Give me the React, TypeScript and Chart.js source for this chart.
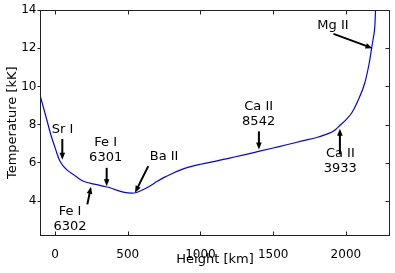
import React, { useEffect, useRef } from "react";
import { Chart, registerables } from "chart.js";
Chart.register(...registerables);

// ---- data ----
const heights = [
  -100, -60, -30, 0, 12, 30, 57, 90, 126, 160, 195, 240, 287, 330, 378, 420, 469, 527, 560,
  600, 650, 700, 750, 800, 860, 920, 1000, 1100, 1200, 1300, 1400, 1500, 1600, 1700, 1800,
  1850, 1900, 1930, 1960, 2000, 2040, 2080, 2130, 2160, 2177, 2190, 2199, 2204, 2208,
];
const temperatures = [
  9.45, 8.35, 7.5, 6.8, 6.52, 6.15, 5.83, 5.58, 5.39, 5.2, 5.04, 4.94, 4.86, 4.78, 4.7, 4.58,
  4.47, 4.42, 4.45, 4.58, 4.78, 5.02, 5.24, 5.42, 5.62, 5.78, 5.93, 6.08, 6.25, 6.42, 6.6,
  6.78, 6.96, 7.15, 7.33, 7.45, 7.6, 7.75, 7.97, 8.25, 8.61, 9.2, 10.18, 11.2, 12.0, 12.6,
  13.13, 14.0, 15.0,
];
const xTicks = [0, 500, 1000, 1500, 2000];
const yTicks = [4, 6, 8, 10, 12, 14];
const xRange = [-100, 2300];
const yRange = [2.2, 14];

// annotations (data coordinates)
const labelTexts = ["Sr I", "Fe I\n6301", "Fe I\n6302", "Ba II", "Ca II\n8542", "Ca II\n3933", "Mg II"];
const labelHeights = [51, 348, 103, 750, 1400, 1962, 1911];
const labelTemps = [7.74, 7.05, 3.46, 6.35, 8.93, 6.5, 13.2];
const tailHeights = [50, 355, 222, 641, 1402, 1959, 1915];
const tailTemps = [7.25, 5.74, 3.83, 5.83, 7.65, 6.44, 12.75];
const tipHeights = [50, 355, 247, 550, 1402, 1959, 2183];
const tipTemps = [6.17, 4.78, 4.75, 4.44, 6.7, 7.78, 12.0];

const FONT = "DejaVu Sans";

function drawArrow(ctx: CanvasRenderingContext2D, x0: number, y0: number, x1: number, y1: number) {
  const ang = Math.atan2(y1 - y0, x1 - x0);
  const hl = 7;
  const hw = 2.8;
  const c = Math.cos(ang);
  const s = Math.sin(ang);
  const bx = x1 - hl * c;
  const by = y1 - hl * s;
  ctx.lineWidth = 2;
  ctx.beginPath();
  ctx.moveTo(x0, y0);
  ctx.lineTo(bx + c, by + s);
  ctx.stroke();
  ctx.beginPath();
  ctx.moveTo(x1, y1);
  ctx.lineTo(bx + hw * s, by - hw * c);
  ctx.lineTo(bx - hw * s, by + hw * c);
  ctx.closePath();
  ctx.fill();
}

const framePlugin = {
  id: "frameAndNotes",
  afterDatasetsDraw(chart: any) {
    const { ctx, chartArea: a, scales } = chart;
    const x = scales.x;
    const y = scales.y;
    ctx.save();
    // annotations
    ctx.fillStyle = "#000";
    ctx.strokeStyle = "#000";
    ctx.font = `13px "${FONT}"`;
    ctx.textAlign = "center";
    ctx.textBaseline = "middle";
    labelTexts.forEach((t, i) => {
      const px = x.getPixelForValue(labelHeights[i]);
      const py = y.getPixelForValue(labelTemps[i]);
      t.split("\n").forEach((line, j) => ctx.fillText(line, px, py + j * 15.2));
      drawArrow(
        ctx,
        x.getPixelForValue(tailHeights[i]),
        y.getPixelForValue(tailTemps[i]),
        x.getPixelForValue(tipHeights[i]),
        y.getPixelForValue(tipTemps[i])
      );
    });
    // frame
    ctx.lineWidth = 1;
    ctx.strokeStyle = "#222";
    const L = Math.round(a.left) - 0.5;
    const R = Math.round(a.right) - 0.5;
    const T = Math.round(a.top) + 0.5;
    const B = Math.round(a.bottom) - 0.5;
    ctx.strokeRect(L, T, R - L, B - T);
    // inward ticks: top, bottom, right
    ctx.beginPath();
    xTicks.forEach((v) => {
      const px = Math.round(x.getPixelForValue(v)) + 0.5;
      ctx.moveTo(px, B);
      ctx.lineTo(px, B - 4);
      ctx.moveTo(px, T);
      ctx.lineTo(px, T + 4);
    });
    yTicks.forEach((v) => {
      const py = Math.round(y.getPixelForValue(v)) + 0.5;
      ctx.moveTo(R, py);
      ctx.lineTo(R - 4, py);
    });
    ctx.stroke();
    ctx.restore();
  },
};

export default function App() {
  const ref = useRef<HTMLCanvasElement>(null);
  useEffect(() => {
    document.body.style.margin = "0";
    Chart.defaults.font.family = FONT;
    Chart.defaults.color = "#000";
    const chart = new Chart(ref.current as HTMLCanvasElement, {
      type: "line",
      data: {
        datasets: [
          {
            data: heights.map((h, i) => ({ x: h, y: temperatures[i] })),
            borderColor: "#0000ff",
            borderWidth: 1.2,
            pointRadius: 0,
            fill: false,
            cubicInterpolationMode: "monotone",
          },
        ],
      },
      options: {
        animation: false,
        responsive: false,
        maintainAspectRatio: false,
        layout: { padding: { top: 10, right: 5.5, left: 0, bottom: 0 } },
        plugins: { legend: { display: false }, tooltip: { enabled: false } },
        scales: {
          x: {
            type: "linear",
            min: xRange[0],
            max: xRange[1],
            afterBuildTicks: (s: any) => {
              s.ticks = xTicks.map((v) => ({ value: v }));
            },
            afterFit: (s: any) => {
              s.height = 37.5;
            },
            grid: { display: false },
            border: { display: false },
            ticks: {
              color: "#000",
              font: { size: 12, family: FONT },
              padding: 4,
              maxRotation: 0,
              autoSkip: false,
              callback: (v: any) => String(v),
            },
            title: {
              display: true,
              text: "Height [km]",
              color: "#000",
              font: { size: 13, family: FONT },
              padding: { top: 0, bottom: 5.7 },
            },
          },
          y: {
            type: "linear",
            min: yRange[0],
            max: yRange[1],
            afterBuildTicks: (s: any) => {
              s.ticks = yTicks.map((v) => ({ value: v }));
            },
            afterFit: (s: any) => {
              s.width = 40.5;
            },
            grid: { display: true, drawOnChartArea: false, drawTicks: true, tickLength: 3, color: "#222" },
            border: { display: false },
            ticks: {
              color: "#000",
              font: { size: 12, family: FONT },
              padding: 1,
              autoSkip: false,
              callback: (v: any) => String(v),
            },
            title: {
              display: true,
              text: "Temperature [kK]",
              color: "#000",
              font: { size: 13, family: FONT },
              padding: { top: 4.7, bottom: 0 },
            },
          },
        },
      },
      plugins: [framePlugin],
    } as any);
    return () => chart.destroy();
  }, []);
  return (
    <div style={{ width: 395, height: 273 }}>
      <canvas ref={ref} width={395} height={273} style={{ width: 395, height: 273, display: "block" }} />
    </div>
  );
}
